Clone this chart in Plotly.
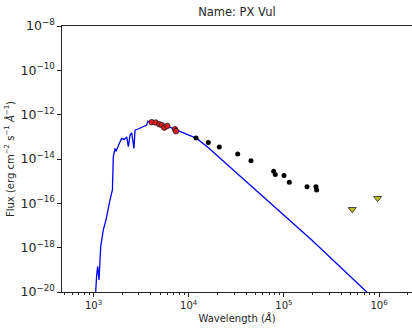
import plotly.graph_objects as go

# model SED (wavelength in Angstrom, flux in erg/cm2/s/A)
model_wave = [1050, 1054, 1080, 1107, 1142, 1190, 1267, 1353, 1490, 1553, 1580, 1614, 1683,
              1720, 1822, 1900, 1977, 2100, 2233, 2322, 2420, 2518, 2661, 2729, 2900,
              3077, 3300, 3622, 3735, 3920, 4423, 5000, 5610, 6500, 7480, 9500, 12130,
              16000, 21330, 34580, 196000, 741000, 1000000]
model_flux = [3e-21, 1e-20, 6e-20, 1.4e-19, 3.5e-20, 1.1e-18, 6.3e-18, 1.8e-17, 1.4e-16,
              3.4e-16, 4.0e-16, 1.26e-14, 3.0e-14, 2.2e-14, 4.3e-14, 6.0e-14, 8.5e-14,
              7.5e-14, 1.0e-13, 3.6e-14, 1.2e-13, 1.5e-13, 3.0e-14, 2.0e-13, 2.2e-13,
              2.5e-13, 2.9e-13, 3.4e-13, 5.1e-13, 4.2e-13, 4.5e-13, 3.9e-13, 3.4e-13,
              2.6e-13, 2.0e-13, 1.3e-13, 8.5e-14, 3.3e-14, 1.07e-14, 1.7e-15, 2.2e-18,
              1e-20, 3e-21]

# optical photometry (red)
opt_wave = [4087, 4500, 4911, 5204, 5546, 5957, 7178, 7358]
opt_flux = [4.6e-13, 4.4e-13, 3.7e-13, 3.4e-13, 2.6e-13, 3.1e-13, 2.2e-13, 1.8e-13]

# IR photometry (black)
ir_wave = [11940, 16070, 20950, 32720, 45110, 78100, 81230, 100300, 114000, 175000,
           217400, 221000]
ir_flux = [8.9e-14, 5.6e-14, 3.5e-14, 1.7e-14, 8.3e-15, 2.8e-15, 2.0e-15, 1.8e-15,
           8.9e-16, 5.6e-16, 5.6e-16, 4.0e-16]

# upper limits (triangles)
ul_wave = [523000, 966000]
ul_flux = [5.4e-17, 1.7e-16]

x_major = [1e3, 1e4, 1e5, 1e6]
x_labels = ["10<sup>3</sup>", "10<sup>4</sup>", "10<sup>5</sup>", "10<sup>6</sup>"]
x_minor = [m * 10 ** e for e in range(2, 7) for m in range(2, 10)]

fig = go.Figure()
fig.add_trace(go.Scatter(x=model_wave, y=model_flux, mode="lines",
                         line=dict(color="#0000ff", width=1.3)))
fig.add_trace(go.Scatter(x=opt_wave, y=opt_flux, mode="markers",
                         marker=dict(color="#e31a1c", size=5.5, line=dict(color="#222222", width=0.8))))
fig.add_trace(go.Scatter(x=ir_wave, y=ir_flux, mode="markers",
                         marker=dict(color="black", size=5)))
fig.add_trace(go.Scatter(x=ul_wave, y=ul_flux, mode="markers",
                         marker=dict(color="#bcbd22", size=7, symbol="triangle-down",
                                     line=dict(color="#222222", width=0.8))))

fig.update_layout(
    width=412, height=331,
    margin=dict(l=62, r=0, t=26, b=39),
    paper_bgcolor="white", plot_bgcolor="white",
    showlegend=False,
    font=dict(family="DejaVu Sans", size=10, color="#262626"),
    title=dict(text="Name: PX Vul", x=0.575, xanchor="center", y=0.963, yanchor="middle",
               font=dict(size=11.5, color="#262626")),
)
fig.update_xaxes(
    type="log", range=[2.669, 6.346],
    tickmode="array", tickvals=x_major, ticktext=x_labels,
    ticks="outside", ticklen=4, tickwidth=1, tickcolor="#262626",
    minor=dict(tickmode="array", tickvals=x_minor, ticks="outside", ticklen=2,
               tickcolor="#262626", showgrid=False),
    showgrid=False, zeroline=False,
    showline=True, linecolor="#262626", linewidth=1.2, mirror=True,
    title=dict(text="Wavelength (<i>Å</i>)", standoff=4, font=dict(size=10)),
)
fig.update_yaxes(
    type="log", range=[-20, -8], dtick=2, tick0=0, exponentformat="power",
    ticks="outside", ticklen=4, tickwidth=1, tickcolor="#262626",
    showgrid=False, zeroline=False,
    showline=True, linecolor="#262626", linewidth=1.2, mirror=False,
    title=dict(text="Flux (erg cm<sup>−2</sup> s<sup>−1</sup> <i>Å</i><sup>−1</sup>)",
               standoff=4, font=dict(size=10)),
)

# drop the browser's default 8px body margin so the figure sits at the page corner
fig.write_html("out.html", config={"displayModeBar": False},
               post_script="document.body.style.margin='0';")
